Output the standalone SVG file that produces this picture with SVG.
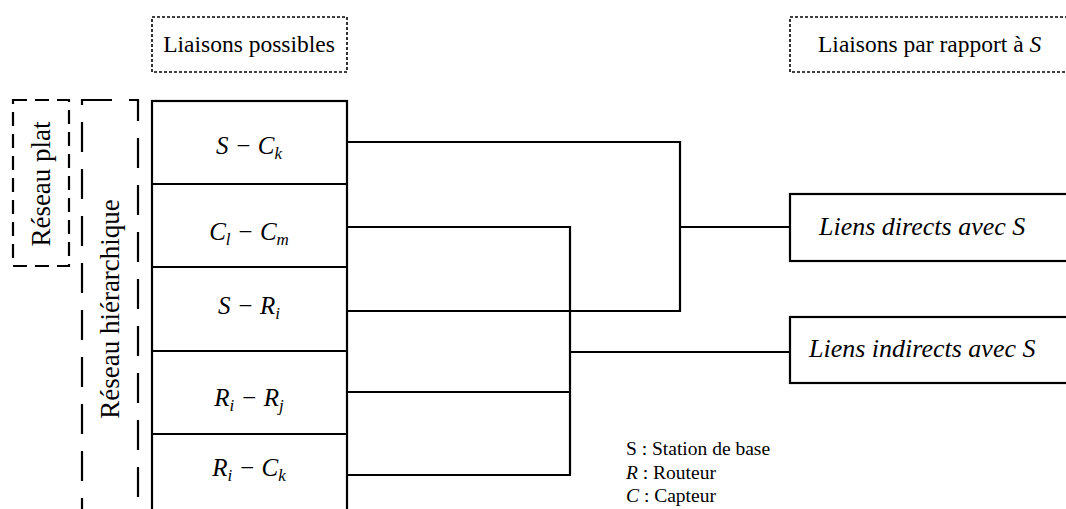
<svg xmlns="http://www.w3.org/2000/svg" width="1066" height="509" viewBox="0 0 1066 509">
<style>
  .ln{fill:none;stroke:#000;stroke-width:2.2}
  .dot{fill:none;stroke:#000;stroke-width:1.6;stroke-dasharray:3 2}
  .t{font-family:"Liberation Serif","Times New Roman",serif;fill:#000}
  .m{font-family:"Liberation Serif","Times New Roman",serif;font-style:italic;font-size:25px;fill:#000}
  .sub{font-size:17px}
</style>
<rect width="1066" height="509" fill="#fff"/>

<g id="hdr-left">
  <rect class="dot" x="152" y="17" width="195" height="55"/>
  <text class="t" x="249" y="52" font-size="23.5" text-anchor="middle">Liaisons possibles</text>
</g>
<g id="hdr-right">
  <rect class="dot" x="790" y="17" width="300" height="55"/>
  <text class="t" x="818" y="52" font-size="23.5">Liaisons par rapport à <tspan font-style="italic">S</tspan></text>
</g>

<g id="reseau-plat">
  <rect x="13" y="100" width="56" height="166" fill="none" stroke="#000" stroke-width="2.2" stroke-dasharray="14 8"/>
  <text class="t" font-size="27" text-anchor="middle" transform="translate(50,184) rotate(-90)">Réseau plat</text>
</g>
<g id="reseau-hierarchique">
  <rect x="82" y="100" width="56" height="440" fill="none" stroke="#000" stroke-width="2.2" stroke-dasharray="30 17"/>
  <text class="t" font-size="27" text-anchor="middle" transform="translate(119,309) rotate(-90)">Réseau hiérarchique</text>
</g>

<g id="liaisons-table">
  <rect class="ln" x="152" y="101" width="195" height="430"/>
  <path class="ln" d="M152,184H347M152,267H347M152,351H347M152,434H347"/>
  <text class="m" x="249" y="154" text-anchor="middle">S − C<tspan class="sub" dy="5">k</tspan></text>
  <text class="m" x="249" y="240" text-anchor="middle">C<tspan class="sub" dy="5">l</tspan><tspan dy="-5"> − C</tspan><tspan class="sub" dy="5">m</tspan></text>
  <text class="m" x="249" y="314" text-anchor="middle">S − R<tspan class="sub" dy="5">i</tspan></text>
  <text class="m" x="249" y="406" text-anchor="middle">R<tspan class="sub" dy="5">i</tspan><tspan dy="-5"> − R</tspan><tspan class="sub" dy="5">j</tspan></text>
  <text class="m" x="249" y="476" text-anchor="middle">R<tspan class="sub" dy="5">i</tspan><tspan dy="-5"> − C</tspan><tspan class="sub" dy="5">k</tspan></text>
</g>

<g id="liens-directs">
  <rect class="ln" x="790" y="194" width="300" height="67"/>
  <text class="t" x="819" y="235" font-size="26" font-style="italic">Liens directs avec S</text>
</g>
<g id="liens-indirects">
  <rect class="ln" x="790" y="317" width="300" height="66"/>
  <text class="t" x="809" y="357" font-size="26" font-style="italic">Liens indirects avec S</text>
</g>

<g id="connectors">
  <path class="ln" d="M347,142H680V311H347"/>
  <path class="ln" d="M680,227H790"/>
  <path class="ln" d="M347,227H570V475H347"/>
  <path class="ln" d="M347,392H570"/>
  <path class="ln" d="M570,352H790"/>
</g>

<g id="legend">
  <text class="t" x="626" y="455" font-size="19.5">S : Station de base</text>
  <text class="t" x="626" y="479" font-size="19.5"><tspan font-style="italic">R</tspan> : Routeur</text>
  <text class="t" x="626" y="502" font-size="19.5"><tspan font-style="italic">C</tspan> : Capteur</text>
</g>
</svg>
